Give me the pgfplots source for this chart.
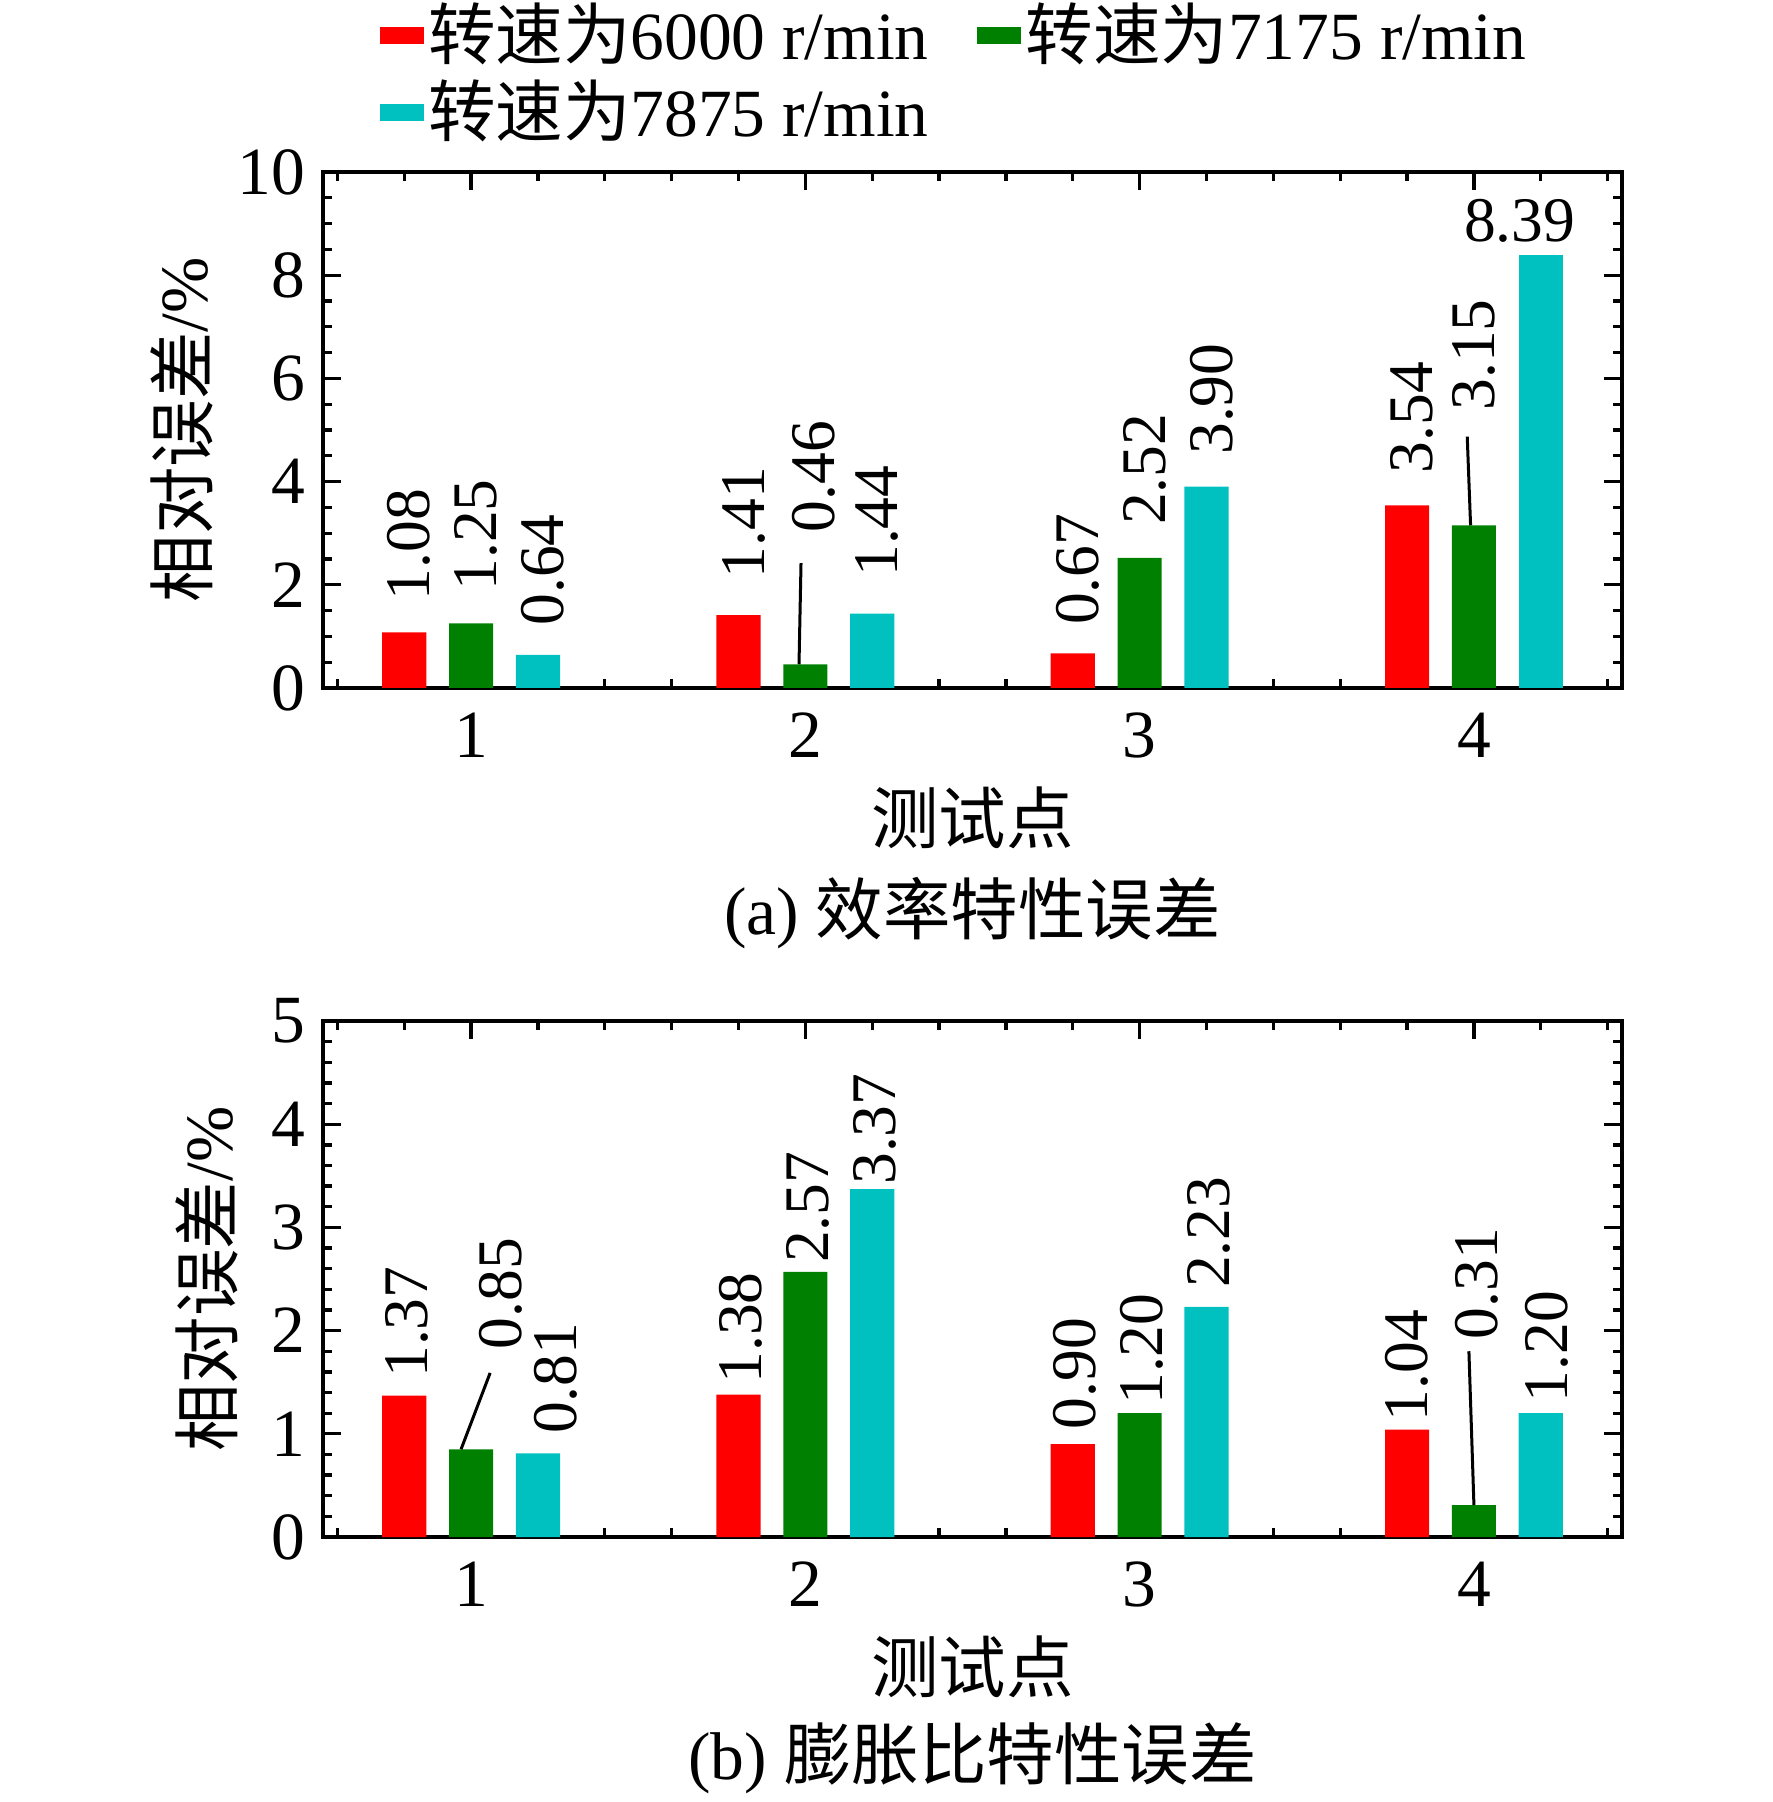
\documentclass[border=0pt]{standalone}
\usepackage{fontspec}
\setmainfont{Liberation Serif}
\newfontfamily\cjk{Noto Sans CJK SC}
\usepackage{pgfplots}
\usepackage{pgfplotstable}
\pgfplotsset{compat=1.18}
\definecolor{cRed}{RGB}{255,0,0}
\definecolor{cGreen}{RGB}{0,128,0}
\definecolor{cCyan}{RGB}{0,192,192}
\newcommand\fs{\fontsize{13.5}{15.5}\selectfont}
\newcommand\fl{\fontsize{12.7}{15}\selectfont}

% (a) efficiency error: x y label-gap(pt) label-dx(pt)
\pgfplotstableread[row sep=\\]{x y gap dx\\ 0.8 1.08 6.2 1\\ 1.8 1.41 7.2 1\\ 2.8 0.67 5.5 1\\ 3.8 3.54 6.2 1\\}\aRed
\pgfplotstableread[row sep=\\]{x y gap dx\\ 1 1.25 6.4 1\\ 2 0.46 26.2 1.6\\ 3 2.52 6.4 1\\ 4 3.15 22.8 0\\}\aGreen
\pgfplotstableread[row sep=\\]{x y gap dx\\ 1.2 0.64 5.7 1\\ 2.2 1.44 7.2 1\\ 3.2 3.90 6.2 1\\}\aCyan
\pgfplotstableread[row sep=\\]{x y\\ 4.2 8.39\\}\aCyanB
% (b) expansion ratio error
\pgfplotstableread[row sep=\\]{x y gap dx\\ 0.8 1.37 3.4 0.5\\ 1.8 1.38 2.0 0.5\\ 2.8 0.90 2.8 0.5\\ 3.8 1.04 1.5 0\\}\bRed
\pgfplotstableread[row sep=\\]{x y gap dx\\ 1 0.85 19.8 6\\ 2 2.57 1.6 0.5\\ 3 1.20 1.5 0.5\\ 4 0.31 33 0.6\\}\bGreen
\pgfplotstableread[row sep=\\]{x y gap dx\\ 1.2 0.81 3.7 3.6\\ 2.2 3.37 0.7 0.5\\ 3.2 2.23 3.6 0.5\\ 4.2 1.20 2.0 1.2\\}\bCyan

\pgfplotsset{
  /pgf/number format/assume math mode=true,
  base/.style={
    scale only axis, width=259.8pt, height=103.2pt,
    xmin=0.557, xmax=4.443, ymin=0,
    xtick={1,2,3,4},
    minor xtick={0.6,0.8,1.2,1.4,1.6,1.8,2.2,2.4,2.6,2.8,3.2,3.4,3.6,3.8,4.2,4.4},
    tick align=inside,
    axis line style={line width=0.8pt},
    every tick/.style={black, line width=0.66pt},
    major tick length=3.6pt, minor tick length=1.8pt,
    tick label style={font=\fs},
    xticklabel style={yshift=-1.5pt},
    xlabel={{\cjk 测试点}},
    every axis x label/.style={at={(axis description cs:0.5,0)}, yshift=-26pt, anchor=center, font=\fs},
    ylabel={{\cjk 相对误差}/\%},
  },
  bars/.style={ybar, bar width=0.132, bar shift=0pt, draw=none, fill=#1,
    legend image code/.code={\fill[##1] (0pt,-1.7pt) rectangle (8.8pt,1.7pt);}},
  labs/.style={
    nodes near coords={\pgfmathprintnumber[fixed,fixed zerofill,precision=2]{\pgfplotspointmeta}},
    visualization depends on={\thisrow{gap}\as\lgap},
    visualization depends on={\thisrow{dx}\as\ldx},
    every node near coord/.append style={font=\fl, text=black, xshift=\ldx, yshift=\lgap, rotate=90, anchor=west, inner sep=0pt}},
}

\begin{document}
\begin{tikzpicture}
\begin{axis}[base, ymax=10, ytick={0,2,...,10}, minor y tick num=3,
  every axis y label/.style={at={(axis description cs:0,0.5)}, xshift=-28.2pt, rotate=90, anchor=center, font=\fs},
  legend columns=2, legend cell align=left,
  legend style={at={(axis description cs:0,1)}, anchor=south west, xshift=11.1pt, yshift=4.4pt,
    draw=none, fill=none, inner sep=0pt, row sep=0.8pt, font=\fs, nodes={inner sep=0.9pt},
    /tikz/every even column/.append style={column sep=8.8pt}}]
\addplot[bars=cRed, labs] table[x=x,y=y]{\aRed};
\addlegendentry{{\cjk 转速为}6000 r/min}
\addplot[bars=cGreen, labs] table[x=x,y=y]{\aGreen};
\addlegendentry{{\cjk 转速为}7175 r/min}
\addplot[bars=cCyan, labs] table[x=x,y=y]{\aCyan};
\addlegendentry{{\cjk 转速为}7875 r/min}
\addplot[bars=cCyan, forget plot,
  nodes near coords={\pgfmathprintnumber[fixed,fixed zerofill,precision=2]{\pgfplotspointmeta}},
  every node near coord/.append style={font=\fl, text=black, anchor=south, inner sep=0pt, xshift=-4.2pt, yshift=2.4pt}]
  table[x=x,y=y]{\aCyanB};
\draw[line width=0.6pt] (1.981,0.46) -- (1.987,2.42);
\draw[line width=0.6pt] (3.99,3.15) -- (3.98,4.87);
\end{axis}
\node[font=\fs] at (129.9pt,-45pt) {(a) {\cjk 效率特性误差}};

\begin{axis}[base, at={(0pt,-169.8pt)}, anchor=south west,
  ymax=5, ytick={0,1,...,5}, minor y tick num=4,
  every axis y label/.style={at={(axis description cs:0,0.5)}, xshift=-23.2pt, rotate=90, anchor=center, font=\fs}]
\addplot[bars=cRed, labs] table[x=x,y=y]{\bRed};
\addplot[bars=cGreen, labs] table[x=x,y=y]{\bGreen};
\addplot[bars=cCyan, labs] table[x=x,y=y]{\bCyan};
\draw[line width=0.6pt] (0.97,0.85) -- (1.057,1.59);
\draw[line width=0.6pt] (4.0,0.31) -- (3.985,1.80);
\end{axis}
\node[font=\fs] at (129.9pt,-214pt) {(b) {\cjk 膨胀比特性误差}};

\pgfresetboundingbox
\path[use as bounding box] (-64.6pt,-222.8pt) rectangle (289.8pt,137.6pt);
\end{tikzpicture}
\end{document}
